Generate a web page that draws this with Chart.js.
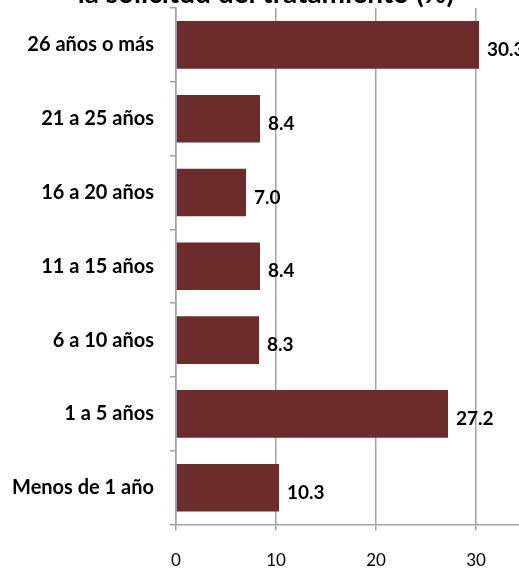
<!DOCTYPE html>
<html lang="es">
<head>
<meta charset="utf-8">
<script src="https://cdn.jsdelivr.net/npm/chart.js@4.4.1/dist/chart.umd.min.js"></script>
<style>
  html, body { margin: 0; padding: 0; background: #fff; overflow: hidden; }
  body { width: 519px; height: 569px; position: relative; }
  #wrap { position: absolute; left: 0; top: -25px; width: 546px; height: 616px; }
</style>
</head>
<body>
<div id="wrap"><canvas id="grafico"></canvas></div>
<script>
// Tiempo de consumo hasta la solicitud del tratamiento
const categorias = ['26 años o más', '21 a 25 años', '16 a 20 años', '11 a 15 años', '6 a 10 años', '1 a 5 años', 'Menos de 1 año'];
const porcentajes = [30.3, 8.4, 7.0, 8.4, 8.3, 27.2, 10.3];
const marcasEje = [0, 10, 20, 30];

const colorBarra = '#6B2C2B';
const gris = '#A3A3A3';
const fuente = 'Lato, "Liberation Sans", sans-serif';

Chart.defaults.font.family = fuente;
Chart.defaults.color = '#000';

// Etiqueta con el valor al final de cada barra
const etiquetasValor = {
    id: 'etiquetasValor',
    afterDatasetsDraw(chart) {
        const ctx = chart.ctx;
        const meta = chart.getDatasetMeta(0);
        ctx.save();
        ctx.font = 'bold 19px ' + fuente;
        ctx.fillStyle = '#000';
        ctx.textAlign = 'left';
        ctx.textBaseline = 'middle';
        meta.data.forEach((barra, i) => {
            ctx.fillText(porcentajes[i].toFixed(1), barra.x + 8, barra.y + 5);
        });
        ctx.restore();
    }
};

new Chart(document.getElementById('grafico'), {
    type: 'bar',
    data: {
        labels: categorias,
        datasets: [{
            data: porcentajes,
            backgroundColor: colorBarra,
            borderWidth: 0,
            categoryPercentage: 1,
            barPercentage: 0.645
        }]
    },
    options: {
        indexAxis: 'y',
        responsive: true,
        maintainAspectRatio: false,
        animation: false,
        layout: { padding: { left: 0, right: 14, top: 5, bottom: 0 } },
        plugins: {
            legend: { display: false },
            tooltip: { enabled: false },
            title: {
                display: true,
                text: 'la solicitud del tratamiento (%)',
                color: '#000',
                font: { size: 28, weight: 'bold', lineHeight: 1 },
                padding: 0
            }
        },
        scales: {
            x: {
                min: 0,
                max: 35,
                grid: { color: gris, lineWidth: 1.5, tickLength: 6 },
                border: { color: gris, width: 1.5 },
                ticks: {
                    stepSize: 10,
                    padding: 20,
                    font: { size: 17 },
                    callback: v => marcasEje.includes(v) ? v : ''
                }
            },
            y: {
                grid: { offset: true, drawOnChartArea: false, tickLength: 6, color: gris, lineWidth: 1.5 },
                border: { color: gris, width: 1.5 },
                ticks: { padding: 16, font: { size: 20, weight: 'bold' } },
                afterFit(scale) { scale.width = 176; }
            }
        }
    },
    plugins: [etiquetasValor]
});
</script>
</body>
</html>
